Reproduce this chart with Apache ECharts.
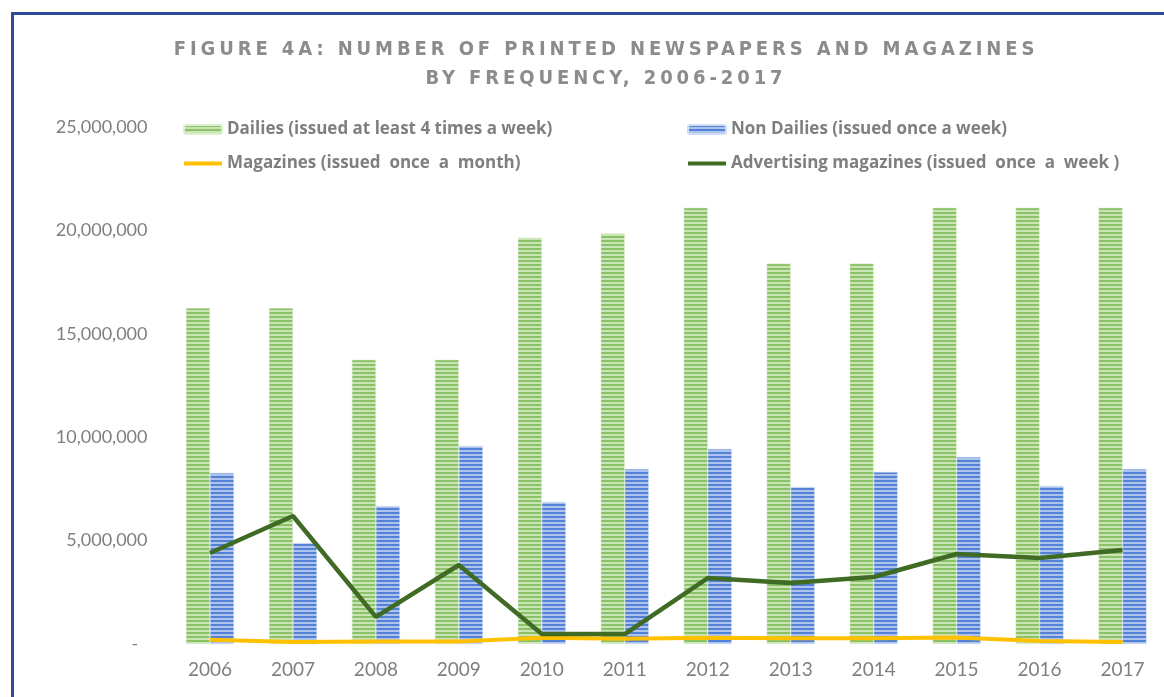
<!DOCTYPE html>
<html>
<head>
<meta charset="utf-8">
<script src="https://cdn.jsdelivr.net/npm/echarts@6/dist/echarts.min.js"></script>
<style>
  html, body { margin: 0; padding: 0; background: #fff; }
  #frame { position: absolute; left: 11px; top: 12px; width: 1300px; height: 800px;
           border-left: 3px solid #2e4b9b; border-top: 3px solid #2e4b9b; }
  #chart { position: absolute; left: 0; top: 0; width: 1164px; height: 697px; }
  #title { position: absolute; left: 0; top: 34px; width: 1212px; text-align: center;
           font-family: "DejaVu Sans Condensed", "DejaVu Sans", sans-serif; font-weight: bold;
           font-size: 20px; letter-spacing: 3.9px; line-height: 29px; color: #8c8c8c; }
</style>
</head>
<body>
<div id="frame"></div>
<div id="chart"></div>
<div id="title">FIGURE 4A: NUMBER OF PRINTED NEWSPAPERS AND MAGAZINES<br>BY FREQUENCY, 2006-2017</div>
<script>
var years = ['2006','2007','2008','2009','2010','2011','2012','2013','2014','2015','2016','2017'];
var dailies = [16250000,16250000,13750000,13750000,19650000,19850000,21100000,18400000,18400000,21100000,21100000,21100000];
var nonDailies = [8270000,4880000,6670000,9570000,6870000,8460000,9430000,7590000,8320000,9040000,7640000,8460000];
var magazines = [200000,100000,120000,120000,300000,250000,300000,280000,280000,320000,150000,100000];
var advertising = [4400000,6190000,1310000,3820000,480000,480000,3190000,2950000,3240000,4350000,4160000,4550000];
var names = ['Dailies (issued at least 4 times a week)', 'Non Dailies (issued once a week)',
             'Magazines (issued  once  a  month)', 'Advertising magazines (issued  once  a  week )'];

var stripes = function(dark, light){
    var c = document.createElement('canvas');
    c.width = 4; c.height = 4;
    var ctx = c.getContext('2d');
    ctx.fillStyle = light;
    ctx.fillRect(0, 0, 4, 4);
    ctx.fillStyle = dark;
    ctx.fillRect(0, 0, 4, 2);
    return { image: c, repeat: 'repeat' };
};

var myCharts = echarts.init(document.getElementById('chart'));
var legendText = { color: '#7f7f7f', fontSize: 17, fontWeight: 'bold', fontFamily: '"Open Sans", sans-serif' };
// hide the dot that line series put in the legend icon
var noDot = { color: 'rgba(0,0,0,0)', borderColor: 'rgba(0,0,0,0)' };
var option = {
    animation: false,
    legend: [
        { orient: 'vertical', left: 177, top: 116, itemWidth: 38, itemHeight: 9, itemGap: 17,
          textStyle: legendText,
          data: [names[0], { name: names[2], itemStyle: noDot, lineStyle: { width: 4 } }] },
        { orient: 'vertical', left: 681, top: 116, itemWidth: 38, itemHeight: 9, itemGap: 17,
          textStyle: legendText,
          data: [names[1], { name: names[3], itemStyle: noDot, lineStyle: { width: 4 } }] }
    ],
    grid: { left: 168.5, right: 0, top: 127, bottom: 53, containLabel: false },
    xAxis: {
        type: 'category', data: years,
        axisLine: { show: false }, axisTick: { show: false },
        axisLabel: { color: '#7f7f7f', fontSize: 19, fontFamily: 'Lato, sans-serif', margin: 16 }
    },
    yAxis: {
        type: 'value', min: 0, max: 25000000, interval: 5000000,
        splitLine: { show: false }, axisLine: { show: false }, axisTick: { show: false },
        axisLabel: {
            color: '#7f7f7f', fontSize: 18, fontFamily: 'Lato, sans-serif', margin: 21,
            formatter: function(v){ return v === 0 ? '-  ' : v.toLocaleString('en-US'); }
        }
    },
    series: [
        { name: names[0], type: 'bar', data: dailies, barWidth: 24, barGap: '0%',
          itemStyle: { color: stripes('#8bc267', '#c9e4b5'), borderColor: '#dcefd0', borderWidth: 0.5 } },
        { name: names[1], type: 'bar', data: nonDailies, barWidth: 24, barGap: '0%',
          itemStyle: { color: stripes('#5282d5', '#adc3ee'), borderColor: '#cfdcf4', borderWidth: 0.5 } },
        { name: names[2], type: 'line', data: magazines, symbol: 'none',
          lineStyle: { color: '#ffc000', width: 4 }, itemStyle: { color: '#ffc000' } },
        { name: names[3], type: 'line', data: advertising, symbol: 'none',
          lineStyle: { color: '#406b25', width: 4.5 }, itemStyle: { color: '#406b25' } }
    ]
};
myCharts.setOption(option);
</script>
</body>
</html>
